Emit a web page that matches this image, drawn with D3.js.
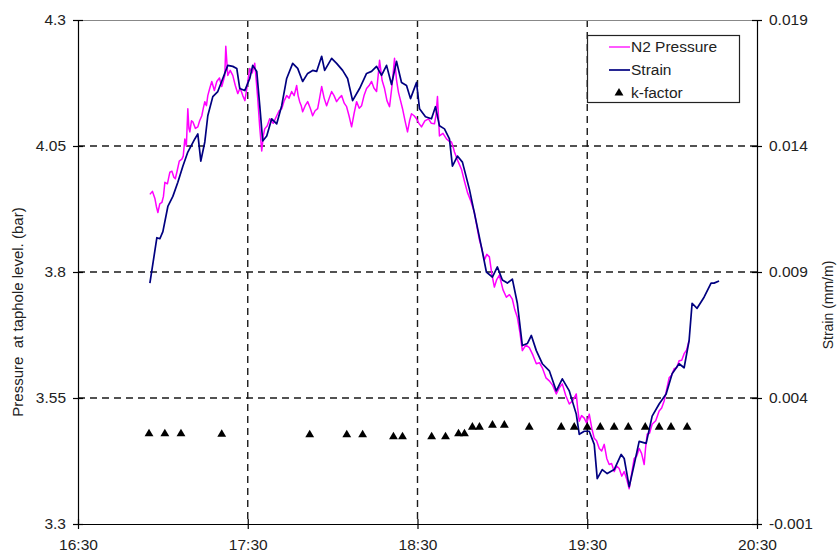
<!DOCTYPE html>
<html><head><meta charset="utf-8">
<script src="https://cdn.jsdelivr.net/npm/d3@7"></script>
<style>
html,body{margin:0;padding:0;background:#fff;}
svg{display:block;font-family:"Liberation Sans",Arial,sans-serif;}
</style></head>
<body><svg id="c" width="837" height="553"></svg>
<script>
// ---- data: [minutes after 16:30, value] ----
const timeTickLabels = ["16:30","17:30","18:30","19:30","20:30"];
const pressureTicks = [3.3, 3.55, 3.8, 4.05, 4.3];
const pressureTickLabels = ["3.3","3.55","3.8","4.05","4.3"];
const strainTicks = [-0.001, 0.004, 0.009, 0.014, 0.019];
const strainTickLabels = ["-0.001","0.004","0.009","0.014","0.019"];
const seriesNames = ["N2 Pressure","Strain","k-factor"];

const pressure = [
[25.41,3.954],[26.3,3.96],[27.18,3.946],[27.7,3.93],[28.24,3.918],[28.9,3.935],[29.65,3.938],[30.2,3.95],
[30.71,3.978],[31.6,3.975],[32.47,3.998],[33.2,4.0],[33.88,3.988],[34.4,3.985],[34.94,3.998],[35.8,4.02],
[36.71,4.024],[37.2,4.03],[37.76,4.064],[38.3,4.05],[38.82,4.124],[39.2,4.085],[39.53,4.078],[40.1,4.1],
[40.59,4.098],[41.5,4.085],[42.35,4.088],[43.0,4.1],[43.76,4.11],[44.3,4.125],[44.82,4.138],[45.4,4.13],
[45.88,4.15],[46.6,4.165],[47.29,4.178],[48.2,4.16],[49.06,4.178],[50.0,4.185],[50.82,4.168],[51.4,4.18],
[51.88,4.19],[52.24,4.248],[52.94,4.19],[53.8,4.2],[54.71,4.19],[55.6,4.17],[56.47,4.154],[57.3,4.165],
[58.24,4.15],[59.0,4.14],[59.65,4.164],[60.2,4.185],[60.71,4.204],[61.6,4.195],[62.47,4.214],[63.0,4.18],
[63.53,4.144],[64.2,4.09],[64.94,4.04],[65.5,4.07],[66.0,4.084],[66.9,4.09],[67.76,4.104],[69.0,4.095],
[70.24,4.11],[71.1,4.12],[72.0,4.124],[72.9,4.14],[73.76,4.15],[74.6,4.145],[75.53,4.158],[76.4,4.15],
[77.29,4.17],[77.8,4.15],[78.35,4.138],[78.9,4.13],[79.41,4.118],[80.3,4.13],[81.18,4.138],[82.1,4.125],
[82.94,4.11],[83.8,4.12],[84.71,4.124],[85.4,4.145],[86.12,4.168],[87.0,4.145],[87.88,4.13],[88.8,4.145],
[89.65,4.158],[90.5,4.15],[91.41,4.138],[92.3,4.145],[93.18,4.15],[94.1,4.135],[94.94,4.128],[95.8,4.11],
[96.71,4.088],[97.6,4.115],[98.47,4.138],[99.4,4.125],[100.24,4.13],[101.1,4.15],[102.0,4.164],[102.9,4.17],
[103.76,4.178],[104.6,4.165],[105.53,4.158],[106.1,4.19],[106.59,4.22],[107.5,4.18],[108.35,4.164],[109.2,4.14],
[110.12,4.128],[111.0,4.17],[111.88,4.224],[112.6,4.18],[113.29,4.156],[114.0,4.14],[114.71,4.124],[115.6,4.1],
[116.47,4.078],[117.2,4.1],[117.88,4.114],[118.8,4.11],[119.65,4.104],[120.5,4.095],[121.41,4.088],[122.6,4.1],
[123.88,4.104],[124.9,4.095],[126.0,4.094],[126.5,4.11],[127.06,4.148],[127.76,4.07],[129.0,4.075],[130.24,4.064],
[131.1,4.06],[132.0,4.058],[132.5,4.05],[133.06,4.038],[134.3,4.02],[135.53,4.004],[136.6,3.98],[137.65,3.958],
[138.9,3.94],[140.12,3.918],[141.0,3.89],[141.88,3.864],[142.8,3.845],[143.65,3.824],[144.5,3.835],[145.41,3.83],
[146.3,3.795],[147.18,3.77],[148.0,3.785],[148.94,3.794],[150.2,3.765],[151.41,3.75],[152.5,3.755],[153.53,3.746],
[154.4,3.725],[155.29,3.71],[156.2,3.68],[157.06,3.644],[158.3,3.655],[159.53,3.65],[160.8,3.635],[162.0,3.618],
[163.1,3.62],[164.12,3.61],[165.4,3.59],[166.59,3.584],[167.8,3.575],[169.06,3.558],[170.1,3.57],[171.18,3.578],
[172.4,3.555],[173.65,3.538],[174.9,3.545],[176.12,3.558],[176.6,3.53],[177.18,3.504],[178.0,3.515],[178.94,3.51],
[179.8,3.5],[180.71,3.518],[181.6,3.49],[182.47,3.47],[183.3,3.465],[184.24,3.45],[185.1,3.445],[186.0,3.458],
[186.9,3.43],[187.76,3.418],[188.6,3.42],[189.53,3.404],[190.4,3.415],[191.29,3.41],[192.2,3.395],[193.06,3.404],
[193.9,3.39],[194.82,3.37],[195.7,3.4],[196.59,3.43],[197.5,3.435],[198.35,3.45],[199.2,3.44],[200.12,3.418],
[200.6,3.45],[201.18,3.478],[202.0,3.48],[202.94,3.498],[204.2,3.505],[205.41,3.524],[206.3,3.53],[207.18,3.544],
[208.0,3.565],[208.94,3.59],[209.8,3.595],[210.71,3.608],[211.6,3.61],[212.47,3.624],[213.4,3.625],[214.24,3.638],
[215.1,3.645],[216.0,3.664]
];

const strain = [
[25.41,0.00856],[27.88,0.01036],[28.94,0.01032],[30.0,0.0106],[31.76,0.0116],[33.53,0.012],[35.29,0.01256],[37.06,0.0132],
[38.82,0.01376],[41.29,0.01428],[42.35,0.01448],[43.41,0.0134],[44.82,0.01416],[45.88,0.0152],[47.65,0.01596],[49.41,0.01616],
[51.18,0.01668],[52.94,0.0172],[54.71,0.01716],[56.12,0.01708],[57.18,0.01628],[58.94,0.0162],[60.71,0.01668],[61.76,0.0172],
[63.18,0.01696],[64.24,0.0156],[65.29,0.0142],[66.71,0.0144],[68.47,0.01508],[70.24,0.01488],[72.0,0.0156],[73.76,0.01668],
[75.88,0.01728],[77.65,0.01708],[79.41,0.01656],[81.18,0.01688],[82.94,0.017],[84.35,0.01696],[86.12,0.01756],[87.18,0.017],
[89.65,0.01748],[91.41,0.01728],[93.53,0.017],[95.29,0.01668],[97.06,0.0158],[99.53,0.01628],[102.0,0.01688],[103.76,0.01696],
[105.53,0.01716],[107.29,0.0168],[109.06,0.0172],[110.82,0.01644],[112.59,0.01736],[114.35,0.01652],[116.12,0.0164],[117.53,0.01588],
[119.65,0.01652],[120.71,0.01548],[122.82,0.01516],[124.94,0.01508],[126.35,0.01556],[127.76,0.0148],[129.53,0.01468],[131.29,0.01428],
[132.35,0.0132],[134.12,0.0136],[135.88,0.01336],[138.35,0.01228],[140.82,0.01096],[142.59,0.01],[144.35,0.009],[146.47,0.0088],
[148.24,0.0092],[150.0,0.00868],[151.76,0.00856],[153.53,0.00872],[155.29,0.00776],[157.06,0.00608],[158.82,0.00616],[160.24,0.00648],
[162.0,0.00588],[164.12,0.00536],[166.59,0.00508],[169.06,0.00428],[171.18,0.00476],[173.65,0.00428],[176.12,0.00336],[177.18,0.00256],
[178.94,0.00268],[180.71,0.00268],[182.47,0.00216],[183.53,0.0008],[185.29,0.00116],[187.06,0.001],[189.53,0.00116],[192.0,0.00176],
[193.06,0.0016],[194.82,0.00048],[196.59,0.00136],[198.35,0.00228],[200.82,0.0022],[202.94,0.00328],[205.41,0.00376],[207.88,0.00416],
[210.0,0.00496],[212.47,0.00536],[214.24,0.0052],[216.0,0.00628],[217.06,0.00776],[218.82,0.00756],[221.29,0.008],[223.76,0.00856],
[224.82,0.00856],[226.59,0.00864]
];

const kFactor = [
[25.1,3.479],[30.7,3.479],[36.4,3.479],[50.8,3.478],[81.9,3.477],[95.0,3.477],[100.6,3.477],[111.5,3.473],
[114.7,3.473],[125.0,3.473],[129.9,3.473],[134.5,3.479],[136.6,3.479],[139.4,3.492],[141.9,3.492],[146.5,3.496],
[150.7,3.496],[159.5,3.492],[170.8,3.492],[175.4,3.492],[180.0,3.492],[184.6,3.492],[189.5,3.492],[194.5,3.492],
[200.5,3.492],[205.4,3.492],[209.6,3.492],[215.3,3.492]
];

// ---- layout ----
const L = 78, R = 757, T = 20, B = 524;
const svg = d3.select("#c");
const t0 = new Date(2000,0,1,16,30);
const toDate = m => new Date(t0.getTime() + m*60000);
const x = d3.scaleTime().domain([t0, new Date(2000,0,1,20,30)]).range([L, R]);
const yL = d3.scaleLinear().domain([3.3, 4.3]).range([B, T]);
const yR = d3.scaleLinear().domain([-0.001, 0.019]).range([B, T]);
const timeTicks = timeTickLabels.map(s => { const [h,m] = s.split(":").map(Number); return new Date(2000,0,1,h,m); });

// grid
const g = svg.append("g");
g.selectAll("line.h").data(pressureTicks.slice(1,-1)).join("line")
  .attr("x1", L).attr("x2", R).attr("y1", d=>yL(d)).attr("y2", d=>yL(d))
  .attr("stroke","#1a1a1a").attr("stroke-width",1.4).attr("stroke-dasharray","7,5");
g.selectAll("line.v").data(timeTicks.slice(1,-1)).join("line")
  .attr("y1", T).attr("y2", B).attr("x1", d=>x(d)).attr("x2", d=>x(d))
  .attr("stroke","#1a1a1a").attr("stroke-width",1.4).attr("stroke-dasharray","7,5");
// top border
svg.append("line").attr("x1",L).attr("x2",R).attr("y1",T+0.5).attr("y2",T+0.5).attr("stroke","#888").attr("stroke-width",1);

// lines
const lineP = d3.line().x(d=>x(toDate(d[0]))).y(d=>yL(d[1]));
const lineS = d3.line().x(d=>x(toDate(d[0]))).y(d=>yR(d[1]));
svg.append("path").datum(pressure).attr("d", lineP).attr("fill","none").attr("stroke","#ff00ff").attr("stroke-width",1.5).attr("stroke-linejoin","round");
svg.append("path").datum(strain).attr("d", lineS).attr("fill","none").attr("stroke","#000080").attr("stroke-width",1.7).attr("stroke-linejoin","round");

// k-factor
const tri = d3.symbol().type(d3.symbolTriangle).size(34);
svg.selectAll("path.k").data(kFactor).join("path").attr("class","k")
  .attr("d", tri).attr("transform", d=>`translate(${x(toDate(d[0]))},${yL(d[1])})`).attr("fill","#000");

// axes
function styleAxis(sel){
  sel.selectAll("path.domain").attr("stroke","#000").attr("stroke-width",1.2);
  sel.selectAll(".tick line").attr("stroke","#000").attr("stroke-width",1.2);
  sel.selectAll("text").attr("fill","#222").style("font-size","15.5px").style("font-family",'"Liberation Sans",Arial,sans-serif');
}
const ax = svg.append("g").attr("transform",`translate(0,${B})`)
  .call(d3.axisBottom(x).tickValues(timeTicks).tickFormat((d,i)=>timeTickLabels[i]).tickSizeInner(5).tickSizeOuter(0).tickPadding(10));
ax.selectAll(".tick line").attr("y1",-5);
styleAxis(ax);
const al = svg.append("g").attr("transform",`translate(${L},0)`)
  .call(d3.axisLeft(yL).tickValues(pressureTicks).tickFormat((d,i)=>pressureTickLabels[i]).tickSizeInner(5).tickSizeOuter(0).tickPadding(7));
al.selectAll(".tick line").attr("x1",5);
styleAxis(al);
const ar = svg.append("g").attr("transform",`translate(${R},0)`)
  .call(d3.axisRight(yR).tickValues(strainTicks).tickFormat((d,i)=>strainTickLabels[i]).tickSizeInner(5).tickSizeOuter(0).tickPadding(7));
ar.selectAll(".tick line").attr("x1",-5);
styleAxis(ar);

// titles
svg.append("text").attr("transform",`translate(23,312) rotate(-90)`).attr("text-anchor","middle")
  .style("font-size","15px").attr("fill","#222").attr("xml:space","preserve").text("Pressure  at taphole level. (bar)");
svg.append("text").attr("transform",`translate(833,305) rotate(-90)`).attr("text-anchor","middle")
  .style("font-size","14px").attr("fill","#222").text("Strain (mm/m)");

// legend
const lg = svg.append("g");
lg.append("rect").attr("x",587.5).attr("y",35.5).attr("width",152).attr("height",67).attr("fill","#fff").attr("stroke","#222").attr("stroke-width",1.2);
const colors = ["#ff00ff","#000080"];
[0,1].forEach(i=>{
  lg.append("line").attr("x1",609).attr("x2",630).attr("y1",47+i*23).attr("y2",47+i*23).attr("stroke",colors[i]).attr("stroke-width",i?1.7:1.3);
});
lg.append("path").attr("d",tri).attr("transform","translate(619,93)").attr("fill","#000");
seriesNames.forEach((s,i)=>{
  lg.append("text").attr("x",631).attr("y",47+i*23).attr("dy","0.35em").style("font-size","15.5px").attr("fill","#222").text(s);
});
</script></body></html>
